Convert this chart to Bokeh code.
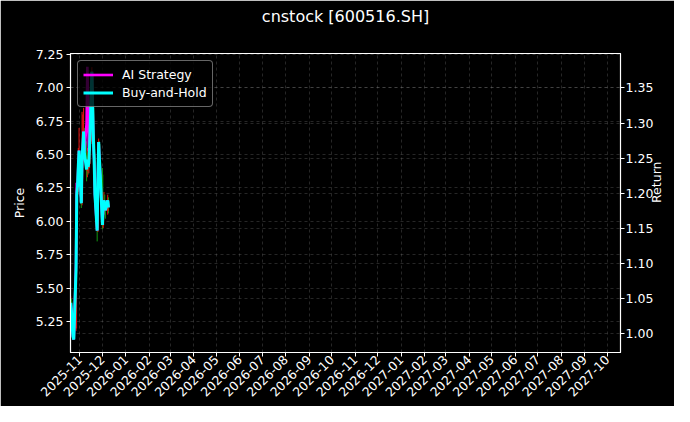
import pandas as pd
from math import pi
from bokeh.plotting import figure
from bokeh.models import (Range1d, LinearAxis, Grid, FixedTicker, DatetimeTickFormatter,
                          NumeralTickFormatter, ColumnDataSource, Legend, LegendItem, Title)
from bokeh.embed import file_html
from bokeh.resources import INLINE

# ---------------- data ----------------
title_text = "cnstock [600516.SH]"
dates = pd.bdate_range("2025-10-20", "2025-12-09")

open_ = [5.36, 5.40, 5.33, 5.22, 5.15, 5.20, 5.80, 6.20, 6.26, 6.40,
         6.45, 6.15, 6.45, 6.55, 6.66, 6.50, 6.38, 6.45, 6.40, 6.43,
         6.60, 7.10, 6.85, 6.60, 6.45, 6.20, 5.95, 6.30, 6.58, 6.45,
         6.35, 5.97, 6.10, 6.15, 6.12, 6.08, 6.15]
high = [5.44, 5.42, 5.35, 5.25, 5.18, 5.64, 6.20, 6.35, 6.55, 6.70,
        6.50, 6.82, 6.80, 6.85, 6.70, 6.60, 6.55, 6.52, 6.50, 6.62,
        7.155, 7.12, 6.90, 6.65, 6.50, 6.25, 6.35, 6.62, 6.60, 6.50,
        6.40, 6.15, 6.22, 6.20, 6.15, 6.20, 6.18]
low = [5.33, 5.30, 5.20, 5.14, 5.12, 5.18, 5.75, 6.10, 6.22, 6.35,
       6.10, 6.12, 6.40, 6.50, 6.45, 6.30, 6.33, 6.35, 6.36, 6.40,
       6.58, 6.80, 6.55, 6.40, 6.15, 5.85, 5.92, 6.28, 6.40, 6.30,
       5.94, 5.95, 6.05, 6.08, 6.02, 6.05, 6.06]
close = [5.40, 5.33, 5.22, 5.15, 5.13, 5.64, 6.20, 6.26, 6.40, 6.52,
         6.13, 6.45, 6.55, 6.66, 6.50, 6.38, 6.45, 6.40, 6.43, 6.55,
         7.10, 6.85, 6.60, 6.45, 6.20, 5.93, 6.30, 6.58, 6.45, 6.35,
         5.97, 6.10, 6.15, 6.12, 6.08, 6.15, 6.10]

ai_strategy = [1.044, 1.031, 1.010, 0.996, 0.992, 1.100, 1.215, 1.211, 1.238, 1.261,
               1.186, 1.248, 1.267, 1.288, 1.257, 1.300, 1.380, 1.330, 1.260, 1.267,
               1.373, 1.325, 1.277, 1.248, 1.199, 1.147, 1.219, 1.273, 1.248, 1.228,
               1.155, 1.180, 1.190, 1.184, 1.176, 1.190, 1.180]
buy_hold = [1.044, 1.031, 1.010, 0.996, 0.992, 1.091, 1.199, 1.211, 1.238, 1.261,
            1.186, 1.248, 1.267, 1.288, 1.257, 1.234, 1.248, 1.238, 1.244, 1.267,
            1.373, 1.325, 1.277, 1.248, 1.199, 1.147, 1.219, 1.273, 1.248, 1.228,
            1.155, 1.180, 1.190, 1.184, 1.176, 1.190, 1.180]

month_ticks = pd.date_range("2025-11-01", "2027-10-01", freq="MS")
price_ticks = [5.25, 5.50, 5.75, 6.00, 6.25, 6.50, 6.75, 7.00, 7.25]
return_ticks = [1.00, 1.05, 1.10, 1.15, 1.20, 1.25, 1.30, 1.35]

# ---------------- styling ----------------
FONT = "DejaVu Sans"
UP = "#ee1111"
DOWN = "#119911"

p = figure(width=674, height=406, x_axis_type="datetime",
           output_backend="svg", toolbar_location=None,
           x_range=Range1d(pd.Timestamp("2025-10-19 16:00"), pd.Timestamp("2027-10-18 14:00")),
           y_range=Range1d(5.018, 7.257),
           min_border_left=70, min_border_right=54, min_border_top=52, min_border_bottom=54,
           background_fill_color="black", border_fill_color="black",
           outline_line_color="white", outline_line_width=1.2)
p.extra_y_ranges = {"ret": Range1d(0.9735, 1.399)}

# spacer between the title and the plot frame (stacked nearest to the frame)
p.add_layout(Title(text=" ", text_font_size="12px", standoff=8), "above")

p.title.text = title_text
p.title.align = "center"
p.title.text_color = "white"
p.title.text_font = FONT
p.title.text_font_size = "16px"
p.title.text_font_style = "normal"
p.title.standoff = 8

# grids
month_ms = [t.value // 10**6 for t in month_ticks]
p.xgrid.ticker = FixedTicker(ticks=month_ms)
p.ygrid.ticker = FixedTicker(ticks=price_ticks)
for g in (p.xgrid[0], p.ygrid[0]):
    g.grid_line_color = "#888888"
    g.grid_line_alpha = 0.4
    g.grid_line_dash = "3 3"
    g.grid_line_width = 0.7
rgrid = Grid(dimension=1, ticker=FixedTicker(ticks=return_ticks), y_range_name="ret",
             grid_line_color="#888888", grid_line_alpha=0.4, grid_line_dash="3 3",
             grid_line_width=0.7)
p.add_layout(rgrid)

# axes
def style_axis(ax):
    ax.axis_line_color = "white"
    ax.major_tick_line_color = "white"
    ax.minor_tick_line_color = None
    ax.major_tick_out = 4
    ax.major_tick_in = 0
    ax.major_label_standoff = 3
    ax.axis_label_standoff = 6
    ax.major_label_text_color = "white"
    ax.major_label_text_font = FONT
    ax.major_label_text_font_size = "12.5px"
    ax.axis_label_text_color = "white"
    ax.axis_label_text_font = FONT
    ax.axis_label_text_font_size = "12.5px"
    ax.axis_label_text_font_style = "normal"

xa = p.xaxis[0]
xa.ticker = FixedTicker(ticks=month_ms)
xa.formatter = DatetimeTickFormatter(years="%Y-%m", months="%Y-%m", days="%Y-%m",
                                     hours="%Y-%m", minutes="%Y-%m")
xa.major_label_orientation = pi / 4
style_axis(xa)
xa.major_label_standoff = 1

ya = p.yaxis[0]
ya.ticker = FixedTicker(ticks=price_ticks)
ya.formatter = NumeralTickFormatter(format="0.00")
ya.axis_label = "Price"
style_axis(ya)

ra = LinearAxis(y_range_name="ret", ticker=FixedTicker(ticks=return_ticks),
                formatter=NumeralTickFormatter(format="0.00"), axis_label="Return")
style_axis(ra)
ra.major_label_standoff = 1
ra.axis_label_standoff = 0
ra.axis_label_orientation = pi / 2
p.add_layout(ra, "right")

# candles
colors = [UP if c >= o else DOWN for o, c in zip(open_, close)]
src = ColumnDataSource(dict(date=dates, open=open_, high=high, low=low, close=close,
                            top=[max(o, c) for o, c in zip(open_, close)],
                            bottom=[min(o, c) for o, c in zip(open_, close)],
                            color=colors, ai=ai_strategy, bh=buy_hold))
p.segment(x0="date", y0="high", x1="date", y1="low", color="color", line_width=1, source=src)
p.vbar(x="date", top="top", bottom="bottom", width=1.6 * 86400000, fill_color="color",
       line_color="color", line_width=0.5, source=src)

r_ai = p.line(x="date", y="ai", y_range_name="ret", line_color="#ff00ff", line_width=2.6, source=src)
r_bh = p.line(x="date", y="bh", y_range_name="ret", line_color="#00ffff", line_width=3, source=src)

legend = Legend(items=[LegendItem(label="AI Strategy", renderers=[r_ai]),
                       LegendItem(label="Buy-and-Hold", renderers=[r_bh])],
                location="top_left", margin=7, padding=5, spacing=1,
                glyph_width=30, glyph_height=17, label_height=17, label_standoff=9,
                label_text_color="white", label_text_font=FONT, label_text_font_size="12.5px",
                background_fill_color="black", background_fill_alpha=0.8,
                border_line_color="#cccccc", border_line_width=1, border_radius=4)
p.add_layout(legend)

open("out.html", "w").write(file_html(p, INLINE))
